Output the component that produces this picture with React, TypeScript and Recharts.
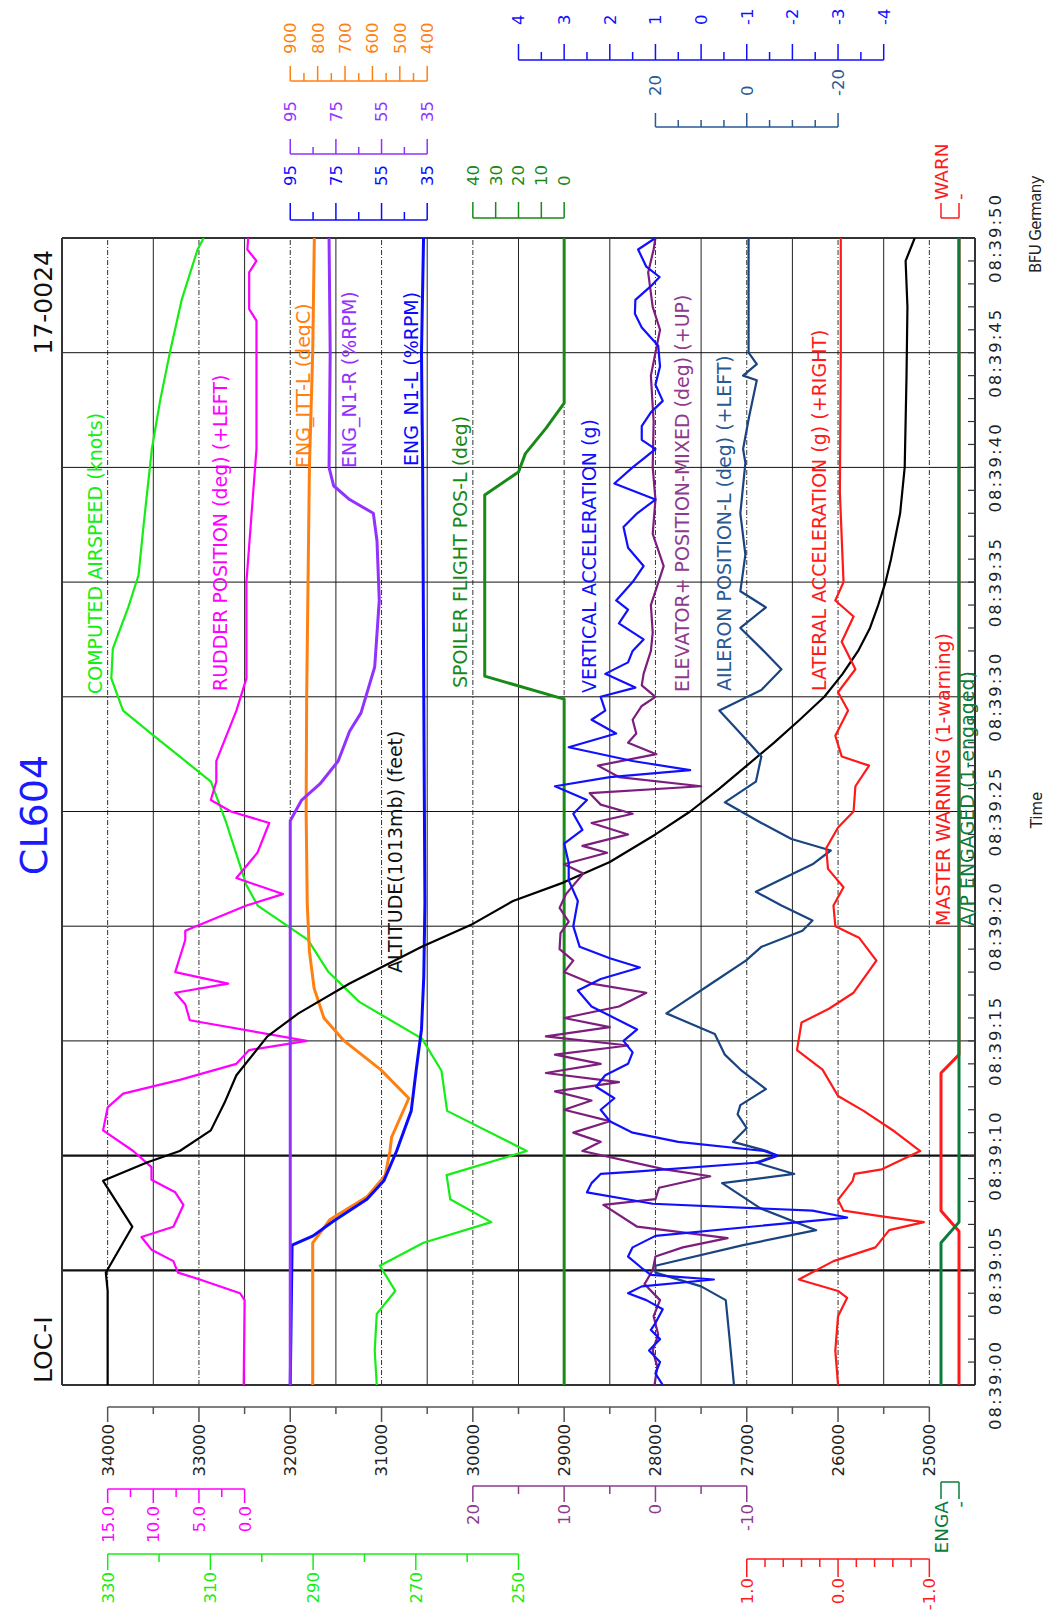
import React from "react";
import { LineChart, Line, XAxis, YAxis, ReferenceLine } from "recharts";

// chart is laid out in landscape (1612 x 1045) and turned -90deg onto the portrait page
const W = 1612;
const H = 1045;
const PLOT = { left: 227, right: 1374, top: 62, bottom: 975 };
const PLOT_H = PLOT.bottom - PLOT.top;
const FONT = "'DejaVu Sans', Verdana, sans-serif";

// ---- time axis (seconds after 08:39:00)
const SECONDS = [
  0, 1, 2, 3, 4, 5, 6, 7, 8, 9, 10, 11, 12, 13, 14, 15, 16, 17, 18, 19, 20, 21, 22, 23, 24, 25,
  26, 27, 28, 29, 30, 31, 32, 33, 34, 35, 36, 37, 38, 39, 40, 41, 42, 43, 44, 45, 46, 47, 48, 49, 50,
];
const TIME_LABELS = [
  "08:39:00", "08:39:05", "08:39:10", "08:39:15", "08:39:20", "08:39:25",
  "08:39:30", "08:39:35", "08:39:40", "08:39:45", "08:39:50",
];
const TIME_GRID = [5, 10, 15, 20, 25, 30, 35, 40, 45];
const TIME_GRID_BOLD = [5, 10];

// ---- axis ticks
const ALT_TICKS = [34000, 33500, 33000, 32500, 32000, 31500, 31000, 30500, 30000, 29500, 29000, 28500, 28000, 27500, 27000, 26500, 26000, 25500, 25000];
const ALT_MAJOR = [34000, 33000, 32000, 31000, 30000, 29000, 28000, 27000, 26000, 25000];
const RUDDER_TICKS = [15, 12.5, 10, 7.5, 5, 2.5, 0];
const RUDDER_MAJOR = [15, 10, 5, 0];
const ELEV_TICKS = [20, 15, 10, 5, 0, -5, -10];
const ELEV_MAJOR = [20, 10, 0, -10];
const IAS_TICKS = [330, 320, 310, 300, 290, 280, 270, 260, 250];
const IAS_MAJOR = [330, 310, 290, 270, 250];
const LAT_TICKS = [1, 0.8, 0.6, 0.4, 0.2, 0, -0.2, -0.4, -0.6, -0.8, -1];
const LAT_MAJOR = [1, 0, -1];
const ITT_TICKS = [900, 850, 800, 750, 700, 650, 600, 550, 500, 450, 400];
const ITT_MAJOR = [900, 800, 700, 600, 500, 400];
const N1_TICKS = [95, 85, 75, 65, 55, 45, 35];
const N1_MAJOR = [95, 75, 55, 35];
const SPOILER_TICKS = [40, 30, 20, 10, 0];
const VERT_TICKS = [4, 3.5, 3, 2.5, 2, 1.5, 1, 0.5, 0, -0.5, -1, -1.5, -2, -2.5, -3, -3.5, -4];
const VERT_MAJOR = [4, 3, 2, 1, 0, -1, -2, -3, -4];
const AIL_TICKS = [20, 15, 10, 5, 0, -5, -10, -15, -20];
const AIL_MAJOR = [20, 0, -20];
const BIN_TICKS = [1, 0];
const ENGA_LABELS = ["-", "ENGA"];
const WARN_LABELS = ["-", "WARN"];

// ---- series: [seconds, value]
const ALTITUDE = [
  [0, 34000], [4.1, 34000], [4.9, 34020], [6.9, 33730], [8.9, 34050], [9.7, 33570], [10.2, 33210],
  [11.1, 32870], [12.3, 32720], [13.5, 32590], [15.2, 32250], [16.2, 31910], [17.5, 31350],
  [19.1, 30560], [20.1, 30000], [21.1, 29560], [21.9, 29010], [22.8, 28500], [24, 28000],
  [25, 27620], [26, 27300], [27, 27000], [28, 26700], [29, 26420], [30, 26150], [31, 25950],
  [32, 25780], [33, 25650], [34, 25560], [35, 25480], [36, 25420], [37, 25370], [38, 25320],
  [40, 25270], [44, 25250], [47, 25240], [49, 25260], [50, 25160],
];
const AIRSPEED = [
  [0, 277.6], [1.5, 278], [3.1, 277.6], [4.1, 274], [5.2, 277], [6.2, 268.5], [7.1, 255.3],
  [8.1, 263.3], [9.15, 264], [10.2, 248.4], [11.95, 263.9], [13.7, 265], [15.1, 268.8],
  [16.7, 281], [18, 287], [19.4, 291], [20.9, 300.8], [21.8, 303], [24.5, 306.9], [26.3, 309.9],
  [27.4, 316], [28.3, 321], [29.4, 327], [30.8, 329.3], [32.1, 329], [33.9, 326], [35.3, 324],
  [37.5, 323], [40.8, 321.4], [42.9, 319.8], [45, 317.9], [47.3, 315.6], [49.5, 312.5], [50, 311.3],
];
const RUDDER = [
  [0, 0.1], [3.7, 0], [4, 0.5], [4.6, 4.9], [4.9, 7.3], [5.4, 7.8], [5.9, 10.2], [6.45, 11.3],
  [6.9, 7.8], [7.85, 6.7], [8.4, 7.6], [8.95, 10.2], [9.5, 10.2], [10.2, 12.2], [11.1, 15.5],
  [12.1, 15], [12.7, 13.3], [13.3, 7.1], [14, 0.9], [14.6, -0.5], [15, -6.8], [15.9, 6],
  [16.6, 6.5], [17.1, 7.6], [17.5, 1.8], [18, 7.6], [19.4, 6.5], [19.8, 6.5], [20.9, -0.2],
  [21.4, -4.2], [22.1, 0.9], [23.2, -1.4], [24.5, -2.7], [25, 1.5], [25.5, 3.7], [26.3, 3.1],
  [27.2, 3.1], [29.4, 0.9], [30.8, -0.2], [35, -0.2], [40.8, -1.3], [46.4, -1.3], [46.9, -0.5],
  [48.5, -0.5], [49, -1.3], [49.5, -0.3], [50, -0.4],
];
const ITT = [
  [0, 818], [6.2, 818], [7.2, 756], [8.2, 620], [9.15, 553], [10.2, 536], [10.8, 530], [12.5, 467],
  [13.75, 570], [15, 703], [16, 777], [17.3, 813], [18.9, 830], [21, 838], [25, 842], [30, 840],
  [40, 830], [45, 818], [50, 812],
];
const N1_L = [
  [0, 95], [6.1, 94.2], [6.5, 85], [7.15, 76], [8.1, 61.4], [8.9, 54], [10.2, 48.4], [11.95, 42],
  [13.75, 39.8], [15.5, 37.5], [17.8, 36.5], [21, 36], [30, 36.5], [40, 37], [45, 37.5], [50, 36.6],
];
const N1_R = [
  [0, 95], [24.6, 95], [25.5, 90], [26.2, 82], [27.2, 74], [28.5, 69], [29.3, 64], [31.3, 58],
  [34.2, 56], [36.8, 57], [38, 58.6], [38.6, 69], [39.2, 76], [40, 78], [45, 77.5], [50, 78],
];
const SPOILER = [
  [0, 0], [29.9, 0], [30.9, 34.8], [38.8, 34.8], [39.8, 20], [40.6, 17], [41.7, 8], [42.8, 0], [50, 0],
];
const VERT_ACCEL = [
  [0, 0.84], [0.5, 1], [1, 0.9], [1.5, 1.14], [2, 0.9], [2.4, 1.1], [2.7, 1], [3.3, 0.84], [3.7, 1.2],
  [4, 1.6], [4.3, 1.3], [4.6, -0.28], [4.8, 1.1], [5.1, 1.3], [5.6, 1.6], [6, 1.5], [6.5, 1],
  [7.3, -3.2], [7.6, -2.44], [7.9, 1.06], [8.4, 2.5], [8.8, 2.4], [9.2, 2.2], [9.3, 1.44],
  [9.7, -1.26], [10, -1.68], [10.2, -1.38], [10.6, 0.5], [11, 1.5], [11.5, 2], [12, 2.2],
  [12.5, 1.9], [13, 2.3], [13.5, 2.1], [14, 1.6], [14.5, 1.5], [15, 1.7], [15.5, 1.4], [16, 1.9],
  [16.5, 2.4], [17.2, 2.7], [17.7, 2.2], [18.2, 1.34], [18.6, 2], [19.1, 2.66], [20, 2.8],
  [21.1, 2.7], [22, 2.9], [22.75, 2.9], [23.6, 3], [24.2, 2.6], [24.9, 2.8], [25.5, 2.5],
  [26.1, 3.2], [26.5, 2], [26.8, 0.24], [27.2, 1.5], [27.8, 2.9], [28.4, 1.86], [29, 2.4],
  [29.4, 2.1], [30, 2.2], [30.4, 1.44], [31, 2.1], [31.5, 1.6], [32, 1.5], [32.5, 1.26],
  [33.2, 1.8], [33.8, 1.6], [34.2, 1.86], [35, 1.5], [35.7, 1.26], [36.5, 1.6], [37.4, 1.7],
  [38, 1.4], [38.6, 1], [39.3, 1.9], [40, 1.5], [40.8, 1], [41.2, 1.3], [41.8, 1.3], [42.4, 1.1],
  [42.9, 0.84], [43.6, 1], [44.4, 0.9], [45.3, 0.94], [46.1, 1.3], [46.7, 1.45], [47.3, 1.44],
  [47.9, 1.1], [48.3, 0.91], [48.75, 1.2], [49.5, 1.38], [50, 1],
];
const ELEVATOR = [
  [0, 0.1], [0.8, -0.2], [1.5, 0.3], [2.2, -0.3], [3, 0.2], [3.7, -0.5], [4.4, 1.2], [5, 0.3],
  [5.6, 0], [6, -3], [6.4, -7.9], [6.9, 2], [7.85, 5.7], [8.1, 0], [8.6, -0.4], [9.1, -6], [9.4, -1],
  [10.2, 8], [10.6, 6], [11, 9], [11.5, 5], [12, 10], [12.4, 7], [12.8, 11], [13.2, 4], [13.6, 12],
  [14, 6], [14.4, 11], [14.8, 3], [15.2, 12], [15.6, 5], [16, 10], [16.5, 4], [17.1, 1], [17.5, 7],
  [18, 10], [18.5, 9], [19, 10.5], [19.7, 10.4], [20.2, 9.5], [20.8, 10.5], [21.4, 9.8],
  [22.3, 7.9], [22.7, 10], [23.2, 5.3], [23.5, 8], [24, 3], [24.5, 7], [24.9, 2.5], [25.3, 6],
  [25.8, 7.2], [26.1, -5], [26.5, 4], [27, 6.3], [27.5, -0.1], [28, 3], [28.4, 2.1], [29, 2.5],
  [29.6, 1.5], [30, 0], [30.5, 1.5], [31, 1.3], [32, 0.5], [32.8, 0.3], [34, 0.5], [35.7, -0.9],
  [37.1, 0.3], [38.6, 0], [40, 0.3], [42, 0.2], [44, 0.5], [45, 0], [46, -0.5], [47, 0.3],
  [48.5, 0.8], [49.5, 0.2], [50, 0],
];
const AILERON = [
  [0, 2.8], [2.1, 3.8], [3.7, 4.6], [4.3, 10], [4.9, 20], [5.2, 20], [6.1, 0.8], [6.75, -15.2],
  [7.7, -3], [8.8, 5.4], [9.2, -10.4], [9.7, -2], [10, -6.6], [10.2, -4.4], [10.6, 3], [11.2, 0],
  [11.8, 2], [12.2, 1.4], [12.9, -4.2], [13.75, 1.4], [14.4, 4.8], [15.3, 7], [16.2, 17.6],
  [16.7, 13.8], [17.6, 7], [18.5, 0.2], [19.1, -3.2], [19.8, -12.2], [20.25, -14.4], [20.9, -7.6],
  [21.5, -2], [22.7, -14.4], [23.3, -18.4], [23.8, -9.8], [24.5, -3.2], [25.4, 4.8], [26.3, -2],
  [27.4, -3.2], [28.5, 1.8], [29.4, 6], [30.3, -3.2], [31.2, -7.6], [32.1, -3.2], [33, 1.4],
  [33.9, -4.2], [34.6, 1.4], [36.2, 0.3], [38, 1.4], [40.2, 0.3], [40.8, 0.8], [42.2, -0.5],
  [43.8, -2.2], [44, 0.8], [44.5, -2.2], [45, -0.4], [50, -0.4],
];
const LATERAL = [
  [0, 0], [1.5, 0.03], [3, 0], [3.8, -0.1], [4.1, 0], [4.6, 0.43], [5.4, 0.05], [6, -0.41],
  [6.75, -0.56], [7.1, -0.94], [7.35, -0.48], [7.6, -0.06], [8.07, 0], [8.9, -0.16], [9.2, -0.18],
  [9.4, -0.48], [10.2, -0.9], [11.05, -0.62], [11.95, -0.28], [12.6, 0], [13.75, 0.17],
  [14.6, 0.45], [15.8, 0.4], [16.4, 0.1], [17.1, -0.17], [18.5, -0.42], [19.5, -0.23], [20, 0.03],
  [20.9, 0.05], [21.7, -0.06], [22.5, 0.11], [23.4, 0.13], [24.3, 0], [25, -0.17], [26.1, -0.19],
  [27, -0.34], [27.4, -0.04], [28.3, 0.03], [29.4, -0.11], [30.2, 0], [31.2, -0.19], [32.4, -0.04],
  [33.5, -0.17], [34.2, 0.03], [35, -0.06], [38.9, -0.02], [45, -0.03], [50, -0.03],
];
const MASTER_WARNING = [[0, 0], [6.7, 0], [7.6, 1], [13.6, 1], [14.4, 0], [50, 0]];
const AP_ENGAGED = [[0, 1], [6.2, 1], [7.1, 0], [50, 0]];

// each parameter gets its own scale spanning the whole plot height
const DOMAINS: Record<string, [number, number]> = {
  alt: [24500, 34500],
  rud: [-80, 20],
  ias: [161.1, 338.9],
  elev: [-35, 65],
  lat: [-1.5, 8.5],
  itt: [-1600, 1733.3],
  n1: [-205, 195],
  spl: [-180, 220],
  vert: [-6, 14],
  ail: [-50, 150],
  bin: [-0.889, 49.83],
};

const C = {
  alt: "#000000",
  ias: "#14ee14",
  rud: "#ff00ff",
  itt: "#ff8010",
  n1r: "#9232ff",
  n1l: "#0a0aff",
  spl: "#178a17",
  vert: "#1010ff",
  elev: "#7d1d7d",
  ail: "#1a4480",
  lat: "#ff1a1a",
  ap: "#0b7d3b",
  title: "#1a1aff",
};

const pts = (rows: number[][]) => rows.map(([t, v]) => ({ t, v }));

type AxisStyle = {
  side: "left" | "right";
  lineX: number;
  majorEnd: number;
  minorEnd: number;
  labelX: number;
  lineColor: string;
  textColor: string;
  fontSize?: number;
};

function axisTick(
  ticks: number[],
  major: number[],
  domain: [number, number],
  label: (v: number) => string,
  st: AxisStyle
) {
  const ppu = PLOT_H / (domain[1] - domain[0]);
  const hi = Math.max(...ticks);
  const lo = Math.min(...ticks);
  return (props: any) => {
    const { y, payload } = props;
    const v = payload.value;
    const isMajor = major.includes(v);
    return (
      <g>
        {v === hi && (
          <line x1={st.lineX} x2={st.lineX} y1={y} y2={y + (hi - lo) * ppu} stroke={st.lineColor} strokeWidth={1.5} />
        )}
        <line
          x1={st.lineX}
          x2={isMajor ? st.majorEnd : st.minorEnd}
          y1={y}
          y2={y}
          stroke={st.lineColor}
          strokeWidth={1.5}
        />
        {isMajor && (
          <text
            x={st.labelX}
            y={y}
            dy="0.36em"
            textAnchor={st.side === "left" ? "end" : "start"}
            fill={st.textColor}
            fontSize={st.fontSize ?? 16.5}
            fontFamily={FONT}
          >
            {label(v)}
          </text>
        )}
      </g>
    );
  };
}

const int = (v: number) => String(v);
const one = (v: number) => v.toFixed(1);

const AXES = [
  { id: "alt", ticks: ALT_TICKS, major: ALT_MAJOR, label: int,
    st: { side: "left", lineX: 205, majorEnd: 190, minorEnd: 198, labelX: 188, lineColor: "#555", textColor: "#222" } },
  { id: "rud", ticks: RUDDER_TICKS, major: RUDDER_MAJOR, label: one,
    st: { side: "left", lineX: 123, majorEnd: 109, minorEnd: 115, labelX: 106, lineColor: C.rud, textColor: C.rud } },
  { id: "elev", ticks: ELEV_TICKS, major: ELEV_MAJOR, label: int,
    st: { side: "left", lineX: 126, majorEnd: 110, minorEnd: 118, labelX: 108, lineColor: "#8e3a8e", textColor: "#8e3a8e" } },
  { id: "ias", ticks: IAS_TICKS, major: IAS_MAJOR, label: int,
    st: { side: "left", lineX: 58, majorEnd: 42, minorEnd: 50, labelX: 40, lineColor: C.ias, textColor: C.ias } },
  { id: "lat", ticks: LAT_TICKS, major: LAT_MAJOR, label: one,
    st: { side: "left", lineX: 53, majorEnd: 35, minorEnd: 45, labelX: 34, lineColor: C.lat, textColor: C.lat } },
  { id: "bin", ticks: BIN_TICKS, major: BIN_TICKS, label: (v: number) => ENGA_LABELS[v],
    st: { side: "left", lineX: 130, majorEnd: 113, minorEnd: 113, labelX: 111, lineColor: C.ap, textColor: C.ap, fontSize: 18.5 } },
  { id: "itt", ticks: ITT_TICKS, major: ITT_MAJOR, label: int,
    st: { side: "right", lineX: 1531, majorEnd: 1546, minorEnd: 1539, labelX: 1558, lineColor: C.itt, textColor: C.itt } },
  { id: "n1", ticks: N1_TICKS, major: N1_MAJOR, label: int,
    st: { side: "right", lineX: 1458, majorEnd: 1473, minorEnd: 1465, labelX: 1490, lineColor: C.n1r, textColor: C.n1r } },
  { id: "n1", ticks: N1_TICKS, major: N1_MAJOR, label: int,
    st: { side: "right", lineX: 1392, majorEnd: 1409, minorEnd: 1400, labelX: 1426, lineColor: C.n1l, textColor: C.n1l } },
  { id: "spl", ticks: SPOILER_TICKS, major: SPOILER_TICKS, label: int,
    st: { side: "right", lineX: 1394, majorEnd: 1410, minorEnd: 1410, labelX: 1426, lineColor: C.spl, textColor: C.spl } },
  { id: "vert", ticks: VERT_TICKS, major: VERT_MAJOR, label: int,
    st: { side: "right", lineX: 1552, majorEnd: 1568, minorEnd: 1560, labelX: 1587, lineColor: C.vert, textColor: C.vert } },
  { id: "ail", ticks: AIL_TICKS, major: AIL_MAJOR, label: int,
    st: { side: "right", lineX: 1485, majorEnd: 1499, minorEnd: 1492, labelX: 1516, lineColor: "#2a5a95", textColor: "#2a5a95" } },
  { id: "bin", ticks: BIN_TICKS, major: BIN_TICKS, label: (v: number) => WARN_LABELS[v],
    st: { side: "right", lineX: 1394, majorEnd: 1409, minorEnd: 1409, labelX: 1412, lineColor: C.lat, textColor: C.lat, fontSize: 18.5 } },
];

const SERIES = [
  { key: "ias", data: AIRSPEED, axis: "ias", color: C.ias, w: 2.2 },
  { key: "rud", data: RUDDER, axis: "rud", color: C.rud, w: 2.2 },
  { key: "itt", data: ITT, axis: "itt", color: C.itt, w: 3 },
  { key: "n1l", data: N1_L, axis: "n1", color: C.n1l, w: 3 },
  { key: "n1r", data: N1_R, axis: "n1", color: C.n1r, w: 3 },
  { key: "spl", data: SPOILER, axis: "spl", color: C.spl, w: 3 },
  { key: "alt", data: ALTITUDE, axis: "alt", color: C.alt, w: 2.2 },
  { key: "ail", data: AILERON, axis: "ail", color: C.ail, w: 2.2 },
  { key: "elev", data: ELEVATOR, axis: "elev", color: C.elev, w: 2.2 },
  { key: "vert", data: VERT_ACCEL, axis: "vert", color: C.vert, w: 2.2 },
  { key: "lat", data: LATERAL, axis: "lat", color: C.lat, w: 2.2 },
  { key: "warn", data: MASTER_WARNING, axis: "bin", color: C.lat, w: 3 },
  { key: "ap", data: AP_ENGAGED, axis: "bin", color: C.ap, w: 3 },
];

// in-plot parameter captions: [text, x, baseline y, colour]
const CAPTIONS: [string, number, number, string][] = [
  ["COMPUTED AIRSPEED (knots)", 918, 102, C.ias],
  ["RUDDER POSITION (deg) (+LEFT)", 921, 227, C.rud],
  ["ENG_ITT-L (degC)", 1144, 310, C.itt],
  ["ENG_N1-R (%RPM)", 1144, 356, C.n1r],
  ["ENG_N1-L (%RPM)", 1146, 418, C.n1l],
  ["ALTITUDE(1013mb) (feet)", 639, 402, "#111"],
  ["SPOILER FLIGHT POS-L (deg)", 924, 467, C.spl],
  ["VERTICAL ACCELERATION (g)", 919, 596, C.vert],
  ["ELEVATOR+ POSITION-MIXED (deg) (+UP)", 920, 689, "#8e3a8e"],
  ["AILERON POSITION-L (deg) (+LEFT)", 921, 731, "#2a5a95"],
  ["LATERAL ACCELERATION (g) (+RIGHT)", 921, 826, C.lat],
  ["MASTER WARNING (1-warning)", 686, 950, C.lat],
  ["A/P ENGAGED (1-engaged)", 686, 974, C.ap],
];

const SOLID_ROWS = [33500, 32500, 31500, 30500, 29500, 28500, 27500, 26500, 25500];
const DASHED_ROWS = [34000, 33000, 32000, 31000, 30000, 29000, 28000, 27000, 26000, 25000];

function TimeTick(props: any) {
  const { x, payload } = props;
  const s = payload.value as number;
  const label = s % 5 === 0 ? TIME_LABELS[s / 5] : null;
  return (
    <g>
      <line x1={x} x2={x} y1={PLOT.bottom - 7} y2={PLOT.bottom} stroke="#333" strokeWidth={1.2} />
      {label && (
        <text x={x} y={1001} textAnchor="middle" fill="#222" fontSize={16.5} fontFamily={FONT} letterSpacing={2}>
          {label}
        </text>
      )}
    </g>
  );
}

export default function App() {
  return (
    <div style={{ position: "absolute", left: 0, top: 0, width: H, height: W, overflow: "hidden", background: "#fff" }}>
      <div
        style={{
          position: "absolute",
          left: 0,
          top: 0,
          width: W,
          height: H,
          transformOrigin: "0 0",
          transform: `translate(0px, ${W}px) rotate(-90deg)`,
        }}
      >
        <LineChart
          width={W}
          height={H}
          margin={{ top: PLOT.top, right: W - PLOT.right, bottom: 30, left: PLOT.left }}
        >
          <XAxis
            type="number"
            dataKey="t"
            domain={[0, 50]}
            allowDataOverflow
            ticks={SECONDS}
            interval={0}
            height={40}
            axisLine={false}
            tickLine={false}
            tick={<TimeTick />}
          />
          {AXES.map((a, i) => (
            <YAxis
              key={a.id + i}
              yAxisId={i === 0 || AXES.findIndex((b) => b.id === a.id) === i ? a.id : a.id + "_" + i}
              type="number"
              domain={DOMAINS[a.id]}
              allowDataOverflow
              ticks={a.ticks}
              interval={0}
              mirror
              axisLine={false}
              tickLine={false}
              tick={axisTick(a.ticks, a.major, DOMAINS[a.id], a.label, a.st as AxisStyle)}
            />
          ))}

          {DASHED_ROWS.map((v) => (
            <ReferenceLine key={"d" + v} y={v} yAxisId="alt" stroke="#333" strokeWidth={1} strokeDasharray="5 2 1 2" />
          ))}
          {SOLID_ROWS.map((v) => (
            <ReferenceLine key={"s" + v} y={v} yAxisId="alt" stroke="#222" strokeWidth={1} />
          ))}
          {TIME_GRID.map((s) => (
            <ReferenceLine
              key={"t" + s}
              x={s}
              yAxisId="alt"
              stroke="#111"
              strokeWidth={TIME_GRID_BOLD.includes(s) ? 2.2 : 1}
            />
          ))}
          <ReferenceLine x={0} yAxisId="alt" stroke="#333" strokeWidth={2} />
          <ReferenceLine x={50} yAxisId="alt" stroke="#333" strokeWidth={2} />
          <ReferenceLine y={34500} yAxisId="alt" stroke="#333" strokeWidth={2} />
          <ReferenceLine y={24500} yAxisId="alt" stroke="#333" strokeWidth={2} />

          {SERIES.map((s) => (
            <Line
              key={s.key}
              data={pts(s.data)}
              dataKey="v"
              yAxisId={s.axis}
              type="linear"
              stroke={s.color}
              strokeWidth={s.w}
              strokeLinejoin="round"
              dot={false}
              activeDot={false}
              isAnimationActive={false}
            />
          ))}
        </LineChart>

        <svg width={W} height={H} style={{ position: "absolute", left: 0, top: 0, pointerEvents: "none" }}>
          <text x={797} y={47} textAnchor="middle" fill={C.title} fontSize={38} fontFamily={FONT}>
            CL604
          </text>
          <text x={229} y={52} fill="#111" fontSize={25} fontFamily={FONT}>
            LOC-I
          </text>
          <text x={1362} y={52} textAnchor="end" fill="#111" fontSize={25} fontFamily={FONT}>
            17-0024
          </text>
          {CAPTIONS.map(([txt, x, y, col]) => (
            <text key={txt} x={x} y={y} fill={col} fontSize={19} fontFamily={FONT}>
              {txt}
            </text>
          ))}
          <text x={802} y={1042} textAnchor="middle" fill="#222" fontSize={15} fontFamily={FONT}>
            Time
          </text>
          <text x={1339} y={1041} fill="#222" fontSize={15} letterSpacing={-0.6} fontFamily={FONT}>
            BFU Germany
          </text>
        </svg>
      </div>
    </div>
  );
}
